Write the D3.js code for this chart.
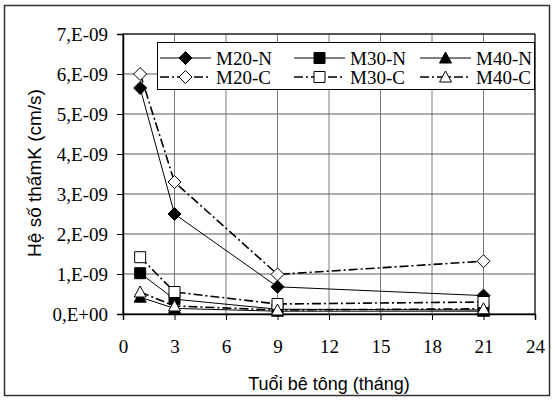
<!DOCTYPE html>
<html>
<head>
<meta charset="utf-8">
<script src="https://cdn.jsdelivr.net/npm/d3@7"></script>
<style>
  html, body { margin: 0; padding: 0; background: #fff; }
  svg { display: block; }
</style>
</head>
<body>
<div id="chart"></div>
<script>
// tuổi bê tông (tháng)
const ages = [1, 3, 9, 21];
const seriesNames = ["M20-N", "M30-N", "M40-N", "M20-C", "M30-C", "M40-C"];
// hệ số thấm K (cm/s)
const m20n = [5.65e-9, 2.5e-9, 0.68e-9, 0.46e-9];
const m30n = [1.02e-9, 0.37e-9, 0.12e-9, 0.1e-9];
const m40n = [0.42e-9, 0.14e-9, 0.07e-9, 0.07e-9];
const m20c = [6.0e-9, 3.3e-9, 0.99e-9, 1.32e-9];
const m30c = [1.42e-9, 0.55e-9, 0.25e-9, 0.3e-9];
const m40c = [0.55e-9, 0.2e-9, 0.1e-9, 0.13e-9];
const xTicks = [0, 3, 6, 9, 12, 15, 18, 21, 24];
const yTicks = [0, 1e-9, 2e-9, 3e-9, 4e-9, 5e-9, 6e-9, 7e-9];
const yTickLabels = ["0,E+00", "1,E-09", "2,E-09", "3,E-09", "4,E-09", "5,E-09", "6,E-09", "7,E-09"];

const series = [
  { name: seriesNames[0], values: m20n, marker: "diamond", filled: true },
  { name: seriesNames[1], values: m30n, marker: "square", filled: true },
  { name: seriesNames[2], values: m40n, marker: "triangle", filled: true },
  { name: seriesNames[3], values: m20c, marker: "diamond", filled: false },
  { name: seriesNames[4], values: m30c, marker: "square", filled: false },
  { name: seriesNames[5], values: m40c, marker: "triangle", filled: false },
];

const W = 555, H = 401;
const margin = { top: 34, right: 20, bottom: 87, left: 123 };
const innerW = W - margin.left - margin.right;
const innerH = H - margin.top - margin.bottom;

const svg = d3.select("#chart").append("svg")
  .attr("width", W).attr("height", H);

// khung ngoài
svg.append("rect")
  .attr("x", 4.5).attr("y", 5.5)
  .attr("width", 545).attr("height", 390)
  .attr("fill", "none").attr("stroke", "#333").attr("stroke-width", 1.5);

const g = svg.append("g").attr("transform", `translate(${margin.left},${margin.top})`);

const x = d3.scaleLinear().domain([0, 24]).range([0, innerW]);
const y = d3.scaleLinear().domain([0, 7e-9]).range([innerH, 0]);

// lưới
g.append("g").selectAll("line")
  .data(xTicks.slice(1))
  .join("line")
  .attr("x1", (d) => x(d)).attr("x2", (d) => x(d))
  .attr("y1", 0).attr("y2", innerH)
  .attr("stroke", "#7a7a7a").attr("stroke-width", 1);
g.append("g").selectAll("line")
  .data(yTicks.slice(1))
  .join("line")
  .attr("x1", 0).attr("x2", innerW)
  .attr("y1", (d) => y(d)).attr("y2", (d) => y(d))
  .attr("stroke", "#5a5a5a").attr("stroke-width", 1);

g.append("rect")
  .attr("width", innerW).attr("height", innerH)
  .attr("fill", "none").attr("stroke", "#000").attr("stroke-width", 1);

// trục
const xAxis = g.append("g")
  .attr("transform", `translate(0,${innerH})`)
  .call(d3.axisBottom(x).tickValues(xTicks).tickSize(6).tickPadding(20));
const yAxis = g.append("g")
  .call(d3.axisLeft(y).tickValues(yTicks).tickSize(6).tickPadding(9)
    .tickFormat((d, i) => yTickLabels[i]));
[xAxis, yAxis].forEach((a) => {
  a.select(".domain").attr("stroke", "#000").attr("stroke-width", 1.5);
  a.selectAll(".tick line").attr("stroke", "#000");
  a.selectAll(".tick text")
    .attr("fill", "#000")
    .style("font-family", "'Liberation Serif', 'Times New Roman', serif")
    .style("font-size", "19px");
});

// tiêu đề trục
svg.append("text")
  .attr("x", 329).attr("y", 390)
  .attr("text-anchor", "middle")
  .style("font-family", "'Liberation Sans', Arial, sans-serif")
  .style("font-size", "18px")
  .text("Tuổi bê tông (tháng)");
svg.append("text")
  .attr("transform", "translate(41,173) rotate(-90)")
  .attr("text-anchor", "middle")
  .style("font-family", "'Liberation Sans', Arial, sans-serif")
  .style("font-size", "19px")
  .text("Hệ số thấmK (cm/s)");

function markerPath(type) {
  if (type === "diamond") return "M0,-6.5L6.5,0L0,6.5L-6.5,0Z";
  if (type === "square") return "M-5.5,-5.5H5.5V5.5H-5.5Z";
  return "M0,-6L6,5H-6Z";
}
function dash(s) { return s.filled ? null : "9,3,2,3"; }

const line = d3.line()
  .x((d, i) => x(ages[i]))
  .y((d) => y(d));

// đường
g.append("g").selectAll("path")
  .data(series)
  .join("path")
  .attr("d", (s) => line(s.values))
  .attr("fill", "none")
  .attr("stroke", "#000")
  .attr("stroke-width", (s) => (s.filled ? 1 : 1.6))
  .attr("stroke-dasharray", dash);

// điểm
series.forEach((s) => {
  g.append("g").selectAll("path")
    .data(s.values)
    .join("path")
    .attr("transform", (d, i) => `translate(${x(ages[i])},${y(d)})`)
    .attr("d", markerPath(s.marker))
    .attr("fill", s.filled ? "#000" : "#fff")
    .attr("stroke", "#000")
    .attr("stroke-width", 1);
});

// chú giải
const legend = svg.append("g");
legend.append("rect")
  .attr("x", 157.5).attr("y", 42.5)
  .attr("width", 377).attr("height", 47)
  .attr("fill", "#fff").attr("stroke", "#000").attr("stroke-width", 1);
const colX = [160, 294, 420];
const rowY = [58, 77];
series.forEach((s, i) => {
  const cx = colX[i % 3], cy = rowY[Math.floor(i / 3)];
  const it = legend.append("g").attr("transform", `translate(${cx},${cy})`);
  it.append("line")
    .attr("x1", 0).attr("x2", 51)
    .attr("stroke", "#000")
    .attr("stroke-width", s.filled ? 1 : 1.6)
    .attr("stroke-dasharray", dash(s));
  it.append("path")
    .attr("transform", "translate(25.5,0)")
    .attr("d", markerPath(s.marker))
    .attr("fill", s.filled ? "#000" : "#fff")
    .attr("stroke", "#000");
  it.append("text")
    .attr("x", 56).attr("dy", "0.35em")
    .style("font-family", "'Liberation Serif', 'Times New Roman', serif")
    .style("font-size", "19px")
    .text(s.name);
});
</script>
</body>
</html>
